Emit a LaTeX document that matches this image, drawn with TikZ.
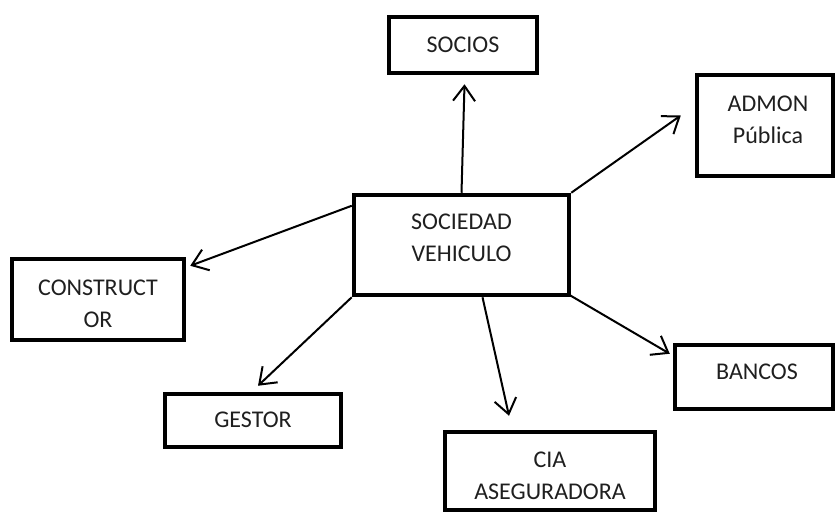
\documentclass[tikz,border=0pt]{standalone}
\usepackage{fontspec}
\setmainfont{Carlito}
\usetikzlibrary{arrows.meta}
\begin{document}
\begin{tikzpicture}[x=1pt,y=-1pt,
  box/.style={draw=black, line width=4.5pt, rectangle, inner sep=0pt},
  lbl/.style={align=center, font=\fontsize{24}{32}\selectfont, text=black!88, inner sep=0pt},
  conn/.style={line width=2pt, -{Straight Barb[length=15pt,width=22pt,line width=2pt]}}]
\useasboundingbox (0,0) rectangle (837,512);
% boxes
\node[box, minimum width=148pt, minimum height=56pt] (socios) at (463,45) {};
\node[lbl] (sociost) at (463,45) {SOCIOS};
\node[box, minimum width=136pt, minimum height=101pt] (admon) at (765,125.5) {};
\node[lbl] (admont) at (768,120) {ADMON\\Pública};
\node[box, minimum width=215pt, minimum height=100pt] (sv) at (461.5,245) {};
\node[lbl] (svt) at (461.5,238) {SOCIEDAD\\VEHICULO};
\node[box, minimum width=172pt, minimum height=81pt] (cons) at (98,299.5) {};
\node[lbl] (const) at (98,303.5) {CONSTRUCT\\OR};
\node[box, minimum width=158pt, minimum height=64pt] (bancos) at (754,377) {};
\node[lbl] (bancost) at (757,372) {BANCOS};
\node[box, minimum width=176pt, minimum height=53pt] (gestor) at (253,420.5) {};
\node[lbl] (gestort) at (253,420) {GESTOR};
\node[box, minimum width=210pt, minimum height=78pt] (cia) at (550,471) {};
\node[lbl] (ciat) at (550,476) {CIA\\ASEGURADORA};
% connectors
\draw[conn] (sv.north) -- ([xshift=1.5pt,yshift=-9pt]socios.south);
\draw[conn] (sv.north east) -- ([xshift=-14pt,yshift=10pt]admon.west);
\draw[conn] ([yshift=-13pt]sv.north west) -- ([xshift=4pt,yshift=-9pt]cons.north east);
\draw[conn] (sv.south west) -- ([xshift=5pt,yshift=6pt]gestor.north);
\draw[conn] ([xshift=21pt]sv.south) -- ([xshift=-41pt,yshift=14pt]cia.north);
\draw[conn] ([xshift=-3pt,yshift=3pt]sv.south east) -- ([xshift=-3pt,yshift=-11pt]bancos.north west);
\end{tikzpicture}
\end{document}
